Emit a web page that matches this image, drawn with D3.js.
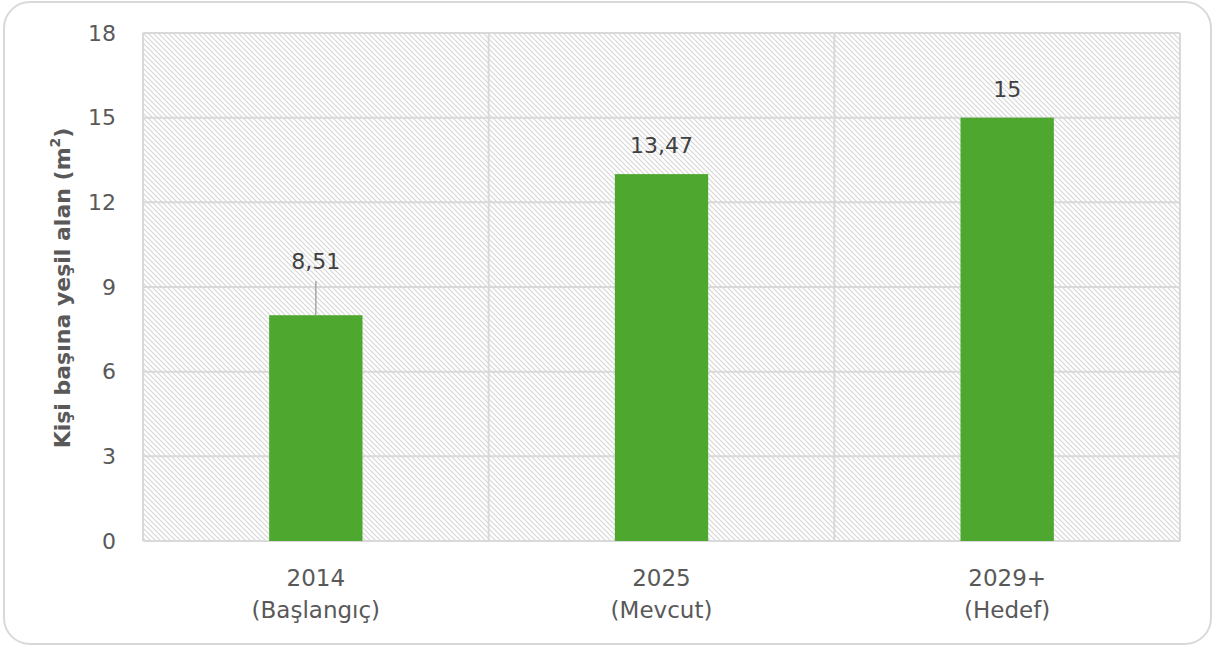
<!DOCTYPE html>
<html><head><meta charset="utf-8">
<script src="https://cdn.jsdelivr.net/npm/d3@7"></script>
<style>
html,body{margin:0;padding:0;background:#fff;}
svg{display:block;}
text{font-family:"DejaVu Sans",sans-serif;}
</style></head>
<body>
<script>
const categories = ["2014", "2025", "2029+"];
const subLabels = ["(Başlangıç)", "(Mevcut)", "(Hedef)"];
const barValues = [8, 13, 15];
const valueLabels = ["8,51", "13,47", "15"];
const yTicks = [0, 3, 6, 9, 12, 15, 18];

const W = 1215, H = 648;
const m = {left: 143, right: 35, top: 33, bottom: 107};
const FONT = "DejaVu Sans, sans-serif";
const svg = d3.select("body").append("svg").attr("width", W).attr("height", H);

const defs = svg.append("defs");
const pat = defs.append("pattern").attr("id", "hatch").attr("patternUnits", "userSpaceOnUse")
  .attr("width", 5).attr("height", 5);
pat.append("rect").attr("width", 5).attr("height", 5).attr("fill", "#fff");
pat.append("path").attr("d", "M0,0L5,5M-1,4L1,6M4,-1L6,1")
  .attr("stroke", "#d6d6d6").attr("stroke-width", 1.1);

// outer border
svg.append("rect").attr("x", 4).attr("y", 2).attr("width", W - 8).attr("height", H - 6)
  .attr("rx", 26).attr("ry", 26).attr("fill", "#fff").attr("stroke", "#d9d9d9").attr("stroke-width", 2);

const x = d3.scaleBand().domain(categories).range([m.left, W - m.right]).padding(0);
const y = d3.scaleLinear().domain([0, 18]).range([H - m.bottom, m.top]);

// plot background
svg.append("rect").attr("x", m.left).attr("y", m.top)
  .attr("width", W - m.right - m.left).attr("height", H - m.bottom - m.top)
  .attr("fill", "url(#hatch)");

// horizontal gridlines
svg.append("g").selectAll("line").data(yTicks).join("line")
  .attr("x1", m.left).attr("x2", W - m.right)
  .attr("y1", d => y(d)).attr("y2", d => y(d))
  .attr("stroke", "#d9d9d9").attr("stroke-width", 2);
// vertical gridlines (category boundaries)
const vx = categories.map(c => x(c)).concat([x(categories[categories.length - 1]) + x.bandwidth()]);
svg.append("g").selectAll("line").data(vx).join("line")
  .attr("x1", d => d).attr("x2", d => d)
  .attr("y1", m.top).attr("y2", H - m.bottom)
  .attr("stroke", "#d9d9d9").attr("stroke-width", 2);

// y axis tick labels
const yAxis = d3.axisLeft(y).tickValues(yTicks).tickSize(0).tickPadding(27).tickFormat(d3.format("d"));
const ga = svg.append("g").attr("transform", `translate(${m.left},0)`).call(yAxis);
ga.select(".domain").remove();
ga.selectAll("text").attr("font-size", 22).attr("fill", "#595959").attr("font-family", FONT);

// bars
const bw = x.bandwidth() * 0.27;
svg.append("g").selectAll("rect").data(barValues).join("rect")
  .attr("x", (d, i) => x(categories[i]) + x.bandwidth() / 2 - bw / 2)
  .attr("y", d => y(d)).attr("width", bw).attr("height", d => y(0) - y(d))
  .attr("fill", "#4ea72e");

// value labels
const labelOffset = [46, 21, 21];
svg.append("g").selectAll("text").data(valueLabels).join("text")
  .attr("x", (d, i) => x(categories[i]) + x.bandwidth() / 2)
  .attr("y", (d, i) => y(barValues[i]) - labelOffset[i])
  .attr("text-anchor", "middle").attr("font-size", 22).attr("fill", "#404040")
  .text(d => d);
// leader line for first label
svg.append("line")
  .attr("x1", x(categories[0]) + x.bandwidth() / 2).attr("x2", x(categories[0]) + x.bandwidth() / 2)
  .attr("y1", y(barValues[0]) - 34).attr("y2", y(barValues[0]))
  .attr("stroke", "#a6a6a6").attr("stroke-width", 1.5);

// x labels
const xl = svg.append("g");
categories.forEach((c, i) => {
  const cx = x(c) + x.bandwidth() / 2;
  xl.append("text").attr("x", cx).attr("y", 586).attr("text-anchor", "middle")
    .attr("font-size", 23).attr("fill", "#595959").text(c);
  xl.append("text").attr("x", cx).attr("y", 618).attr("text-anchor", "middle")
    .attr("font-size", 23).attr("fill", "#595959").text(subLabels[i]);
});

// y axis title
const t = svg.append("text").attr("transform", `translate(70,${(m.top + H - m.bottom) / 2 + 1}) rotate(-90)`)
  .attr("text-anchor", "middle").attr("font-size", 22).attr("font-weight", "bold").attr("fill", "#595959");
t.append("tspan").text("Kişi başına yeşil alan (m");
t.append("tspan").attr("font-size", 14).attr("dy", -10).text("2");
t.append("tspan").attr("dy", 10).text(")");
</script>
</body></html>
